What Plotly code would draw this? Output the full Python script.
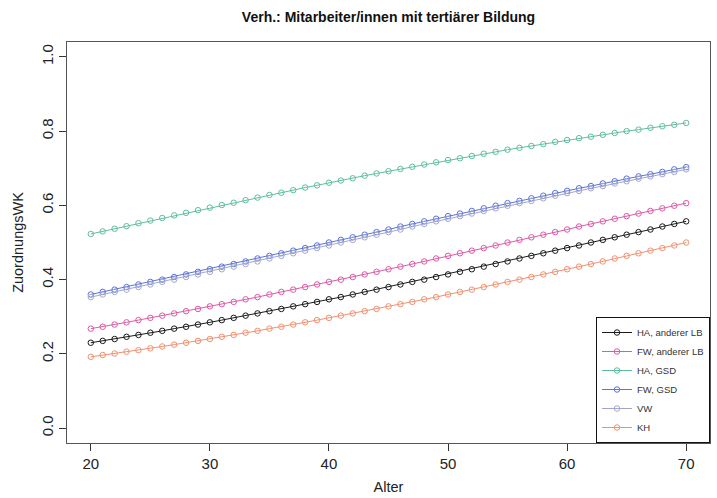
import plotly.graph_objects as go

# Age grid (years)
alter = list(range(20, 71))

# Predicted assignment probability per group
ha_anderer_lb = [.230, .235, .240, .246, .251, .257, .262, .268, .273, .279,
                 .285, .291, .297, .303, .309, .315, .321, .328, .334, .340,
                 .347, .353, .360, .367, .373, .380, .387, .394, .400, .407,
                 .414, .421, .428, .435, .442, .449, .457, .464, .471, .478,
                 .485, .492, .500, .507, .514, .521, .528, .535, .543, .550,
                 .557]
fw_anderer_lb = [.268, .273, .279, .285, .291, .297, .303, .309, .315, .321,
                 .328, .334, .340, .347, .353, .360, .367, .373, .380, .387,
                 .394, .400, .407, .414, .421, .428, .435, .442, .449, .457,
                 .464, .471, .478, .485, .492, .500, .507, .514, .521, .528,
                 .535, .543, .550, .557, .564, .571, .578, .585, .592, .599,
                 .606]
ha_gsd = [.523, .530, .537, .544, .552, .559, .566, .573, .580, .587,
          .594, .601, .607, .614, .621, .628, .634, .641, .648, .654,
          .661, .667, .673, .680, .686, .692, .698, .704, .710, .716,
          .722, .727, .733, .739, .744, .750, .755, .760, .765, .771,
          .776, .781, .785, .790, .795, .800, .804, .809, .813, .817,
          .822]
fw_gsd = [.360, .367, .373, .380, .387, .394, .400, .407, .414, .421,
          .428, .435, .442, .449, .457, .464, .471, .478, .485, .492,
          .500, .507, .514, .521, .528, .535, .543, .550, .557, .564,
          .571, .578, .585, .592, .599, .606, .612, .619, .626, .633,
          .639, .646, .652, .659, .665, .672, .678, .684, .690, .697,
          .703]
vw = [.353, .360, .367, .373, .380, .387, .394, .400, .407, .414,
      .421, .428, .435, .442, .449, .457, .464, .471, .478, .485,
      .492, .500, .507, .514, .521, .528, .535, .543, .550, .557,
      .564, .571, .578, .585, .592, .599, .606, .612, .619, .626,
      .633, .639, .646, .652, .659, .665, .672, .678, .684, .690,
      .697]
kh = [.192, .197, .201, .206, .210, .215, .220, .225, .230, .235,
      .240, .246, .251, .257, .262, .268, .273, .279, .285, .291,
      .297, .303, .309, .315, .321, .328, .334, .340, .347, .353,
      .360, .367, .373, .380, .387, .394, .400, .407, .414, .421,
      .428, .435, .442, .449, .457, .464, .471, .478, .485, .492,
      .500]

series_names = ["HA, anderer LB", "FW, anderer LB", "HA, GSD", "FW, GSD", "VW", "KH"]
series_values = [ha_anderer_lb, fw_anderer_lb, ha_gsd, fw_gsd, vw, kh]
series_colors = ["#1A1A1A", "#DE5AA6", "#5FBF9C", "#5A74D8", "#A2A6CE", "#F2916F"]

x_ticks = [20, 30, 40, 50, 60, 70]
y_ticks = [0.0, 0.2, 0.4, 0.6, 0.8, 1.0]

FONT = "Liberation Sans, Arial, sans-serif"

fig = go.Figure()
for name, vals, col in zip(series_names, series_values, series_colors):
    fig.add_trace(go.Scatter(
        x=alter, y=vals, name=name, mode="lines+markers",
        line=dict(color=col, width=1),
        marker=dict(symbol="circle-open", size=5.5, color=col, line=dict(width=1, color=col)),
    ))

fig.update_layout(
    width=717, height=498,
    margin=dict(l=67, r=7, t=42, b=55),
    paper_bgcolor="white", plot_bgcolor="white",
    font=dict(family=FONT, color="#222222"),
    title=dict(text="<b>Verh.: Mitarbeiter/innen mit tertiärer Bildung</b>",
               x=(67 + 710) / 2 / 717, xanchor="center",
               y=1 - 17 / 498, yanchor="middle", yref="container",
               font=dict(size=14, color="#111111")),
    showlegend=True,
    legend=dict(x=1, y=0, xanchor="right", yanchor="bottom",
                bgcolor="white", bordercolor="#111111", borderwidth=1,
                font=dict(size=9.5, color="#333333"),
                tracegroupgap=0, itemwidth=30),
)
fig.update_xaxes(
    range=[18, 72], tickvals=x_ticks, ticktext=[str(v) for v in x_ticks],
    showgrid=False, zeroline=False,
    showline=True, linecolor="#555555", linewidth=1, mirror=True,
    ticks="outside", ticklen=7, tickcolor="#333333",
    tickfont=dict(size=15, color="#222222"),
    title=dict(text="Alter", font=dict(size=14.5, color="#222222"), standoff=10),
)
fig.update_yaxes(
    range=[-0.04, 1.04], tickvals=y_ticks, ticktext=[f"{v:.1f}" for v in y_ticks],
    tickangle=-90,
    showgrid=False, zeroline=False,
    showline=True, linecolor="#555555", linewidth=1, mirror=True,
    ticks="outside", ticklen=7, tickcolor="#333333",
    tickfont=dict(size=15, color="#222222"),
    title=dict(text="ZuordnungsWK", font=dict(size=14.5, color="#222222"), standoff=11),
)

fig.write_html("out.html")
